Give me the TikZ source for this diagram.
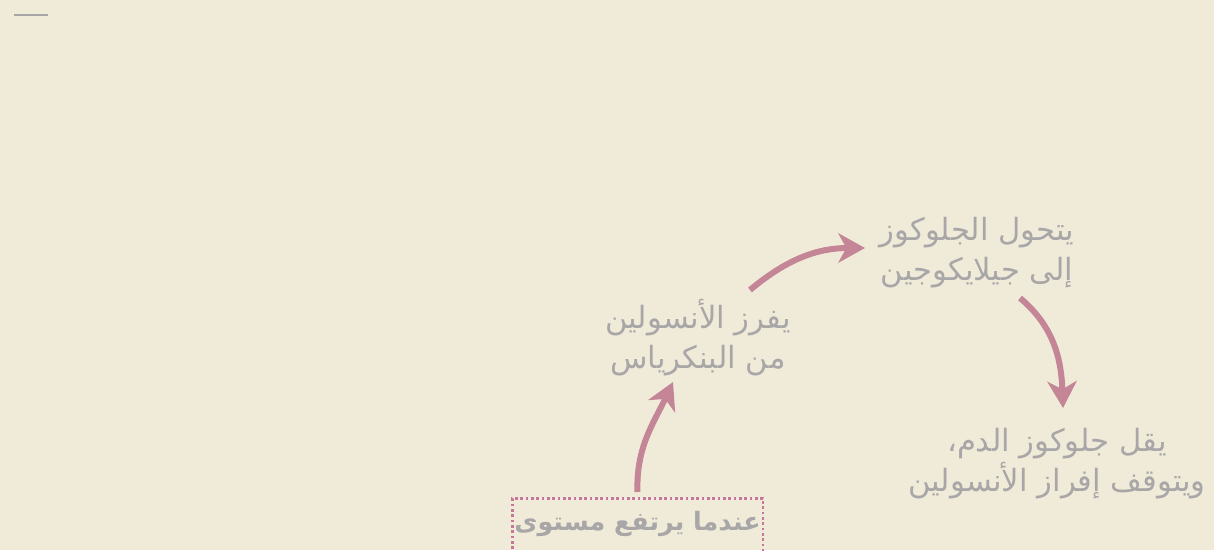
\documentclass[tikz,border=0pt]{standalone}
\usepackage{fontspec}
\newfontfamily\arabicfont[Script=Arabic]{DejaVu Sans}
\TeXXeTstate=1
\usetikzlibrary{arrows.meta,calc}

\definecolor{paper}{HTML}{F0EBD9}
\definecolor{ink}{HTML}{A8A6A7}
\definecolor{rose}{HTML}{C48596}
\definecolor{dotrose}{HTML}{C8779A}

\tikzset{
  steptext/.style={text=ink, font=\arabicfont\fontsize{23}{30}\selectfont, align=center, inner sep=0pt},
  cyclearrow/.style={rose, line width=4.5pt, -{Stealth[length=20pt,width=22pt,inset=6pt]}},
}

\begin{document}
\begin{tikzpicture}[x=0.75pt,y=-0.75pt]
    \fill [paper] (0,0) rectangle (1214,550);% page colour
    \useasboundingbox (0,0) rectangle (1214,550);
    \clip (0,0) rectangle (1214,550);

    \draw [ink, line width=0.8pt] (14,15) -- (48,15);% short rule top left

    \node[steptext] (secrete) at (698,338)
      {\beginR يفرز الأنسولين\endR\\\beginR من البنكرياس\endR};
    \node[steptext] (convert) at (977,253)
      {\beginR يتحول الجلوكوز\endR\\\beginR إلى جيلايكوجين\endR};
    \node[steptext] (drop) at (1057,464)
      {\beginR يقل جلوكوز الدم،\endR\\\beginR ويتوقف إفراز الأنسولين\endR};

    \node[draw=dotrose, line width=2pt, dash pattern=on 2pt off 2pt,
          anchor=north, minimum width=188pt, inner xsep=0pt, inner ysep=6pt,
          text height=18pt, text depth=30pt, text=ink,
          font=\arabicfont\bfseries\fontsize{19}{31}\selectfont] (rise) at (637.5,497)
      {\beginR عندما يرتفع مستوى\endR};

    \draw [cyclearrow] ($(rise.north)+(0,-5)$) to[out=92,in=245] ($(secrete.center)+(-25,44)$);
    \draw [cyclearrow] ($(secrete.center)+(52,-48)$) to[out=40,in=180] ($(convert.center)+(-112,-5)$);
    \draw [cyclearrow] ($(convert.center)+(43,45)$) to[out=-40,in=92] ($(drop.center)+(6,-56)$);
\end{tikzpicture}
\end{document}
